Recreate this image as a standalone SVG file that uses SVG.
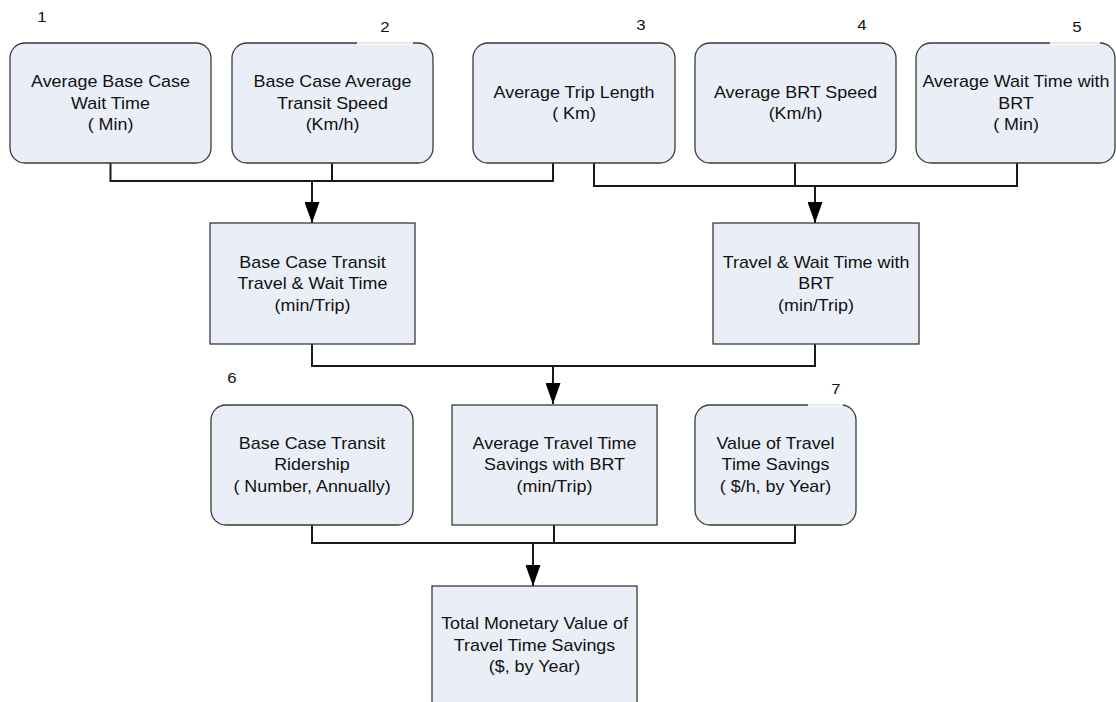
<svg xmlns="http://www.w3.org/2000/svg" width="1116" height="702" viewBox="0 0 1116 702">
  <style>
    .box { fill: #eaeff7; stroke: #3a3a3a; stroke-width: 1.3; }
    .lbl { font-family: "Liberation Sans", Arial, sans-serif; font-size: 16px; fill: #111; text-anchor: middle; }
    .num { font-family: "Liberation Sans", Arial, sans-serif; font-size: 15px; fill: #111; text-anchor: middle; }
    .wire { fill: none; stroke: #1a1a1a; stroke-width: 2; }
    .mask { fill: #ffffff; fill-opacity: 0.85; }
  </style>
  <defs>
    <marker id="arrow" markerUnits="userSpaceOnUse" markerWidth="21" markerHeight="15" refX="21" refY="7.5" orient="auto" viewBox="0 0 21 15">
      <path d="M0,0 L21,7.5 L0,15 Z" fill="#000"/>
    </marker>
  </defs>

  <rect width="1116" height="702" fill="#ffffff"/>

  <!-- connectors -->
  <g id="connectors">
    <path class="wire" d="M110.5,163 V181 H553 V163 M332,163 V181"/>
    <path class="wire" d="M312,181 V223" marker-end="url(#arrow)"/>
    <path class="wire" d="M594,163 V186 H1017 V163 M795,163 V186"/>
    <path class="wire" d="M815,186 V223" marker-end="url(#arrow)"/>
    <path class="wire" d="M312,344 V366 H815 V344"/>
    <path class="wire" d="M553,366 V404" marker-end="url(#arrow)"/>
    <path class="wire" d="M312,525 V543 H795 V525 M554,525 V543"/>
    <path class="wire" d="M533,543 V586" marker-end="url(#arrow)"/>
  </g>

  <!-- top row: inputs 1-5 -->
  <g id="n1">
    <rect class="box" x="10" y="43" width="201" height="120" rx="15"/>
    <text class="num" transform="translate(42,22) scale(1.12,1)">1</text>
    <g class="lbl" transform="translate(110.5,0) scale(1.12,1)">
      <text y="87.5">Average Base Case</text>
      <text y="109">Wait Time</text>
      <text y="130.5">( Min)</text>
    </g>
  </g>
  <g id="n2">
    <rect class="box" x="232" y="43" width="201" height="120" rx="15"/>
    <rect class="mask" x="357" y="41" width="56" height="4"/>
    <text class="num" transform="translate(385,32) scale(1.12,1)">2</text>
    <g class="lbl" transform="translate(332.5,0) scale(1.12,1)">
      <text y="87.5">Base Case Average</text>
      <text y="109">Transit Speed</text>
      <text y="130.5">(Km/h)</text>
    </g>
  </g>
  <g id="n3">
    <rect class="box" x="473" y="43" width="202" height="120" rx="15"/>
    <text class="num" transform="translate(641,30) scale(1.12,1)">3</text>
    <g class="lbl" transform="translate(574,0) scale(1.12,1)">
      <text y="98">Average Trip Length</text>
      <text y="119.5">( Km)</text>
    </g>
  </g>
  <g id="n4">
    <rect class="box" x="695" y="43" width="201" height="120" rx="15"/>
    <text class="num" transform="translate(862,30) scale(1.12,1)">4</text>
    <g class="lbl" transform="translate(795.5,0) scale(1.12,1)">
      <text y="98">Average BRT Speed</text>
      <text y="119.5">(Km/h)</text>
    </g>
  </g>
  <g id="n5">
    <rect class="box" x="916" y="43" width="199" height="120" rx="15"/>
    <rect class="mask" x="1050" y="41" width="50" height="4"/>
    <text class="num" transform="translate(1077,32) scale(1.12,1)">5</text>
    <g class="lbl" transform="translate(1016,0) scale(1.12,1)">
      <text y="87.5">Average Wait Time with</text>
      <text y="109">BRT</text>
      <text y="130.5">( Min)</text>
    </g>
  </g>

  <!-- middle row: travel and wait times -->
  <g id="base-time">
    <rect class="box" x="210" y="223" width="205" height="121"/>
    <g class="lbl" transform="translate(312.5,0) scale(1.12,1)">
      <text y="268">Base Case Transit</text>
      <text y="289.5">Travel &amp; Wait Time</text>
      <text y="311">(min/Trip)</text>
    </g>
  </g>
  <g id="brt-time">
    <rect class="box" x="713" y="223" width="206" height="121"/>
    <g class="lbl" transform="translate(816,0) scale(1.12,1)">
      <text y="268">Travel &amp; Wait Time with</text>
      <text y="289.5">BRT</text>
      <text y="311">(min/Trip)</text>
    </g>
  </g>

  <!-- third row -->
  <g id="n6">
    <rect class="box" x="211" y="405" width="202" height="120" rx="15"/>
    <text class="num" transform="translate(232,383) scale(1.12,1)">6</text>
    <g class="lbl" transform="translate(312,0) scale(1.12,1)">
      <text y="449">Base Case Transit</text>
      <text y="470.5">Ridership</text>
      <text y="492">( Number, Annually)</text>
    </g>
  </g>
  <g id="savings">
    <rect class="box" x="452" y="405" width="205" height="120"/>
    <g class="lbl" transform="translate(554.5,0) scale(1.12,1)">
      <text y="449">Average Travel Time</text>
      <text y="470.5">Savings with BRT</text>
      <text y="492">(min/Trip)</text>
    </g>
  </g>
  <g id="n7">
    <rect class="box" x="695" y="405" width="161" height="120" rx="15"/>
    <rect class="mask" x="808" y="403" width="35" height="4"/>
    <text class="num" transform="translate(836,394) scale(1.12,1)">7</text>
    <g class="lbl" transform="translate(775.5,0) scale(1.12,1)">
      <text y="449">Value of Travel</text>
      <text y="470.5">Time Savings</text>
      <text y="492">( $/h, by Year)</text>
    </g>
  </g>

  <!-- result -->
  <g id="total">
    <rect class="box" x="432" y="586" width="205" height="122"/>
    <g class="lbl" transform="translate(534.5,0) scale(1.12,1)">
      <text y="629.5">Total Monetary Value of</text>
      <text y="651">Travel Time Savings</text>
      <text y="672.5">($, by Year)</text>
    </g>
  </g>
</svg>
